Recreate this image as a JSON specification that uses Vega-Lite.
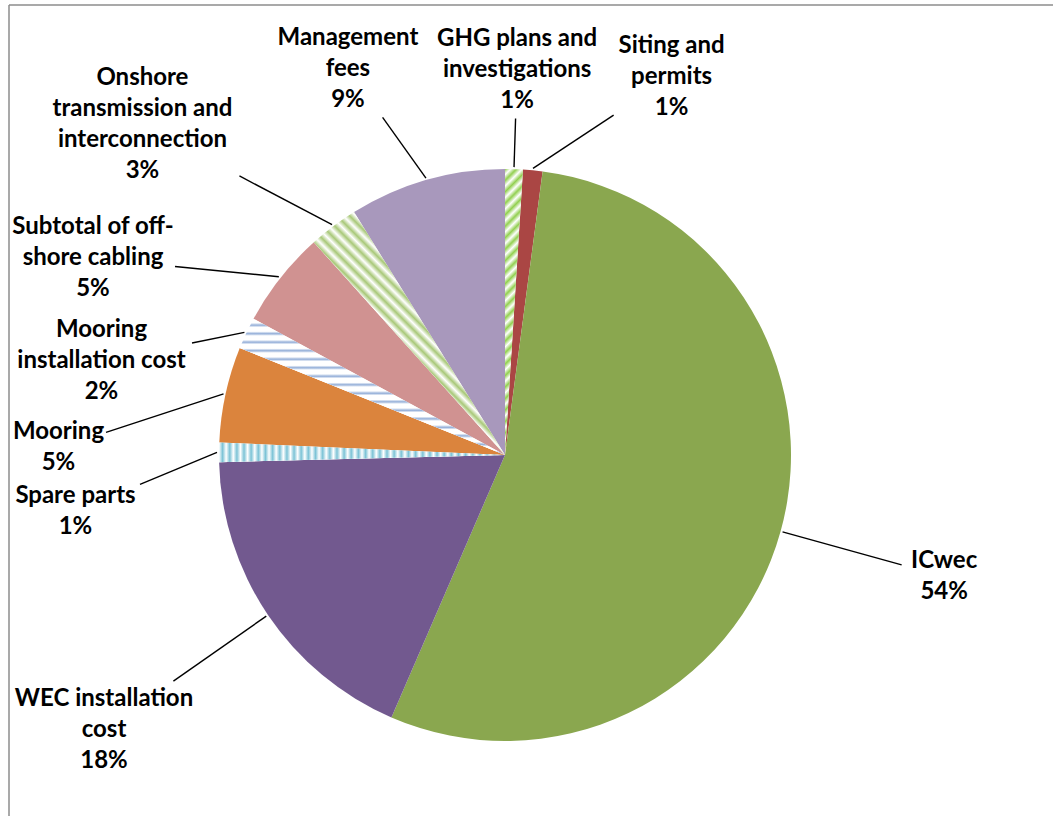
{
  "$schema": "https://vega.github.io/schema/vega-lite/v6.json",
  "width": 1044,
  "height": 811,
  "autosize": {"type": "none"},
  "padding": {"left": 9, "top": 5, "right": 0, "bottom": 0},
  "background": "white",
  "config": {"view": {"stroke": null}},
  "data": {"values": [
    {"item": "GHG plans and investigations", "label": "GHG plans  and\ninvestigations", "value": 1.0},
    {"item": "Siting and permits", "label": "Siting and\npermits", "value": 1.1},
    {"item": "ICwec", "label": "ICwec", "value": 54.4},
    {"item": "WEC installation cost", "label": "WEC installation\ncost", "value": 18.1},
    {"item": "Spare parts", "label": "Spare parts", "value": 1.1},
    {"item": "Mooring", "label": "Mooring", "value": 5.4},
    {"item": "Mooring installation cost", "label": "Mooring\ninstallation cost", "value": 1.8},
    {"item": "Subtotal of off-shore cabling", "label": "Subtotal of off-\nshore cabling", "value": 5.45},
    {"item": "Onshore transmission and interconnection", "label": "Onshore\ntransmission and\ninterconnection", "value": 2.8},
    {"item": "Management fees", "label": "Management\nfees", "value": 8.85}
  ]},
  "transform": [
    {"window": [{"op": "row_number", "as": "idx"}]},
    {"joinaggregate": [{"op": "sum", "field": "value", "as": "total"}]},
    {"window": [{"op": "sum", "field": "value", "as": "cum"}], "sort": [{"field": "idx"}], "frame": [null, 0]},
    {"calculate": "(datum.cum - datum.value) / datum.total", "as": "a0"},
    {"calculate": "datum.cum / datum.total", "as": "a1"},
    {"calculate": "(datum.a0 + datum.a1) / 2", "as": "am"},
    {"calculate": "datum.label + '\\n' + format(datum.value / datum.total, '.0%')", "as": "txt"},
    {"calculate": "split(datum.label, '\\n')", "as": "lines"},
    {"calculate": "datum.lines[0]", "as": "s0"},
    {"calculate": "length(datum.lines) > 1 ? datum.lines[1] : ''", "as": "s1"},
    {"calculate": "length(datum.lines) > 2 ? datum.lines[2] : ''", "as": "s2"},
    {"calculate": "7 * length(replace(datum.s0, regexp('[^ijltfr .,-]', 'g'), '')) + 21 * length(replace(datum.s0, regexp('[^mwMW]', 'g'), '')) + 15 * length(replace(datum.s0, regexp('[^A-LN-VX-Z]', 'g'), '')) + 13 * length(replace(datum.s0, regexp('[ijltfr .,mwA-Z-]', 'g'), ''))", "as": "w0"},
    {"calculate": "7 * length(replace(datum.s1, regexp('[^ijltfr .,-]', 'g'), '')) + 21 * length(replace(datum.s1, regexp('[^mwMW]', 'g'), '')) + 15 * length(replace(datum.s1, regexp('[^A-LN-VX-Z]', 'g'), '')) + 13 * length(replace(datum.s1, regexp('[ijltfr .,mwA-Z-]', 'g'), ''))", "as": "w1"},
    {"calculate": "7 * length(replace(datum.s2, regexp('[^ijltfr .,-]', 'g'), '')) + 21 * length(replace(datum.s2, regexp('[^mwMW]', 'g'), '')) + 15 * length(replace(datum.s2, regexp('[^A-LN-VX-Z]', 'g'), '')) + 13 * length(replace(datum.s2, regexp('[ijltfr .,mwA-Z-]', 'g'), ''))", "as": "w2"},
    {"calculate": "max(datum.w0, datum.w1, datum.w2, 45) / 2", "as": "hw"},
    {"calculate": "(length(datum.lines) + 1) * 15.5", "as": "hh"},
    {"calculate": "336 + datum.hw * abs(sin(2 * PI * datum.am)) + datum.hh * abs(cos(2 * PI * datum.am)) + 80 * pow(sin(2 * PI * datum.am), 2)", "as": "dl0"},
    {"window": [
      {"op": "lag", "field": "hw", "as": "phw"},
      {"op": "lag", "field": "hh", "as": "phh"},
      {"op": "lag", "field": "am", "as": "pam"},
      {"op": "lag", "field": "dl0", "as": "pdl"},
      {"op": "lead", "field": "hw", "as": "nhw"},
      {"op": "lead", "field": "hh", "as": "nhh"},
      {"op": "lead", "field": "am", "as": "nam"},
      {"op": "lead", "field": "dl0", "as": "ndl"},
      {"op": "first_value", "field": "hw", "as": "fhw"},
      {"op": "first_value", "field": "hh", "as": "fhh"},
      {"op": "first_value", "field": "am", "as": "fam"},
      {"op": "first_value", "field": "dl0", "as": "fdl"}
    ], "sort": [{"field": "idx"}], "frame": [null, null]},
    {"calculate": "datum.idx == 1 ? 0 : min((datum.hw + datum.phw + 12) / max(abs(cos(PI * (datum.am + datum.pam))), 0.001), (datum.hh + datum.phh) / max(abs(sin(PI * (datum.am + datum.pam))), 0.001)) / ((datum.dl0 + datum.pdl) / 2) / (2 * PI)", "as": "gp"},
    {"calculate": "isValid(datum.nhw) ? datum.nhw : datum.fhw", "as": "nhw2"},
    {"calculate": "isValid(datum.nhh) ? datum.nhh : datum.fhh", "as": "nhh2"},
    {"calculate": "isValid(datum.nam) ? datum.nam : datum.fam + 1", "as": "nam2"},
    {"calculate": "isValid(datum.ndl) ? datum.ndl : datum.fdl", "as": "ndl2"},
    {"calculate": "min((datum.hw + datum.nhw2 + 12) / max(abs(cos(PI * (datum.am + datum.nam2))), 0.001), (datum.hh + datum.nhh2) / max(abs(sin(PI * (datum.am + datum.nam2))), 0.001)) / ((datum.dl0 + datum.ndl2) / 2) / (2 * PI)", "as": "gn"},
    {"window": [{"op": "sum", "field": "gp", "as": "G"}], "sort": [{"field": "idx"}], "frame": [null, 0]},
    {"calculate": "datum.am - datum.G", "as": "fv"},
    {"window": [{"op": "max", "field": "fv", "as": "fmax"}], "sort": [{"field": "idx"}], "frame": [null, 0]},
    {"window": [{"op": "sum", "field": "gn", "as": "H"}], "sort": [{"field": "idx"}], "frame": [0, null]},
    {"calculate": "datum.am + datum.H", "as": "bv"},
    {"window": [{"op": "min", "field": "bv", "as": "bmin"}], "sort": [{"field": "idx"}], "frame": [0, null]},
    {"calculate": "datum.am < 0.5 ? datum.fmax + datum.G : min(datum.bmin, datum.fam + 1) - datum.H", "as": "lab"},
    {"calculate": "2 * PI * datum.lab", "as": "tl"},
    {"calculate": "datum.hw * abs(sin(datum.tl)) + datum.hh * abs(cos(datum.tl))", "as": "hx"},
    {"calculate": "336 + datum.hx + 80 * pow(sin(datum.tl), 2)", "as": "dl"},
    {"calculate": "clamp(datum.dl * sin(datum.tl), -496 + datum.hw + 6, 548 - datum.hw - 6)", "as": "lx"},
    {"calculate": "clamp(datum.dl * cos(datum.tl), -361 + datum.hh + 6, 450 - datum.hh - 6)", "as": "ly"},
    {"calculate": "datum.ly + (length(datum.lines)) * 15.5", "as": "ty"},
    {"calculate": "288 * sin(2 * PI * datum.am)", "as": "sx"},
    {"calculate": "288 * cos(2 * PI * datum.am)", "as": "sy"},
    {"calculate": "min((datum.hw + 4) / max(abs(datum.sx - datum.lx), 0.001), (datum.hh + 2) / max(abs(datum.sy - datum.ly), 0.001))", "as": "ls"},
    {"calculate": "datum.lx + (datum.sx - datum.lx) * datum.ls", "as": "ex"},
    {"calculate": "datum.ly + (datum.sy - datum.ly) * datum.ls", "as": "ey"}
  ],
  "layer": [
    {
      "mark": {"type": "arc", "outerRadius": 286},
      "encoding": {
        "x": {"datum": 0, "type": "quantitative", "scale": {"domain": [-496, 548], "nice": false, "zero": false}, "axis": null},
        "y": {"datum": 0, "type": "quantitative", "scale": {"domain": [-361, 450], "nice": false, "zero": false}, "axis": null},
        "theta": {"field": "a0", "type": "quantitative", "scale": {"domain": [0, 1]}},
        "theta2": {"field": "a1"},
        "color": {"field": "item", "type": "nominal", "legend": null, "scale": {
          "domain": ["GHG plans and investigations", "Siting and permits", "ICwec", "WEC installation cost", "Spare parts", "Mooring", "Mooring installation cost", "Subtotal of off-shore cabling", "Onshore transmission and interconnection", "Management fees"],
          "range": ["#ffffff", "#aa4644", "#8aa74f", "#72598f", "#ffffff", "#db843d", "#ffffff", "#d09291", "#ffffff", "#a898bc"]}}
      }
    },
    {
      "transform": [{"filter": "datum.item == 'GHG plans and investigations'"}],
      "mark": {"type": "arc", "outerRadius": 286, "fill": {"gradient": "linear", "x1": 0, "y1": 0, "x2": 0.0628, "y2": 1, "stops": [
        {"offset": 0, "color": "#92d050"}, {"offset": 0.02, "color": "#ffffff"}, {"offset": 0.04, "color": "#92d050"}, {"offset": 0.06, "color": "#ffffff"},
        {"offset": 0.08, "color": "#92d050"}, {"offset": 0.1, "color": "#ffffff"}, {"offset": 0.12, "color": "#92d050"}, {"offset": 0.14, "color": "#ffffff"},
        {"offset": 0.16, "color": "#92d050"}, {"offset": 0.18, "color": "#ffffff"}, {"offset": 0.2, "color": "#92d050"}, {"offset": 0.22, "color": "#ffffff"},
        {"offset": 0.24, "color": "#92d050"}, {"offset": 0.26, "color": "#ffffff"}, {"offset": 0.28, "color": "#92d050"}, {"offset": 0.3, "color": "#ffffff"},
        {"offset": 0.32, "color": "#92d050"}, {"offset": 0.34, "color": "#ffffff"}, {"offset": 0.36, "color": "#92d050"}, {"offset": 0.38, "color": "#ffffff"},
        {"offset": 0.4, "color": "#92d050"}, {"offset": 0.42, "color": "#ffffff"}, {"offset": 0.44, "color": "#92d050"}, {"offset": 0.46, "color": "#ffffff"},
        {"offset": 0.48, "color": "#92d050"}, {"offset": 0.5, "color": "#ffffff"}, {"offset": 0.52, "color": "#92d050"}, {"offset": 0.54, "color": "#ffffff"},
        {"offset": 0.56, "color": "#92d050"}, {"offset": 0.58, "color": "#ffffff"}, {"offset": 0.6, "color": "#92d050"}, {"offset": 0.62, "color": "#ffffff"},
        {"offset": 0.64, "color": "#92d050"}, {"offset": 0.66, "color": "#ffffff"}, {"offset": 0.68, "color": "#92d050"}, {"offset": 0.7, "color": "#ffffff"},
        {"offset": 0.72, "color": "#92d050"}, {"offset": 0.74, "color": "#ffffff"}, {"offset": 0.76, "color": "#92d050"}, {"offset": 0.78, "color": "#ffffff"},
        {"offset": 0.8, "color": "#92d050"}, {"offset": 0.82, "color": "#ffffff"}, {"offset": 0.84, "color": "#92d050"}, {"offset": 0.86, "color": "#ffffff"},
        {"offset": 0.88, "color": "#92d050"}, {"offset": 0.9, "color": "#ffffff"}, {"offset": 0.92, "color": "#92d050"}, {"offset": 0.94, "color": "#ffffff"},
        {"offset": 0.96, "color": "#92d050"}, {"offset": 0.98, "color": "#ffffff"}, {"offset": 1, "color": "#92d050"}]}},
      "encoding": {
        "x": {"datum": 0, "type": "quantitative", "scale": {"domain": [-496, 548], "nice": false, "zero": false}, "axis": null},
        "y": {"datum": 0, "type": "quantitative", "scale": {"domain": [-361, 450], "nice": false, "zero": false}, "axis": null},
        "theta": {"field": "a0", "type": "quantitative", "scale": {"domain": [0, 1]}},
        "theta2": {"field": "a1"}
      }
    },
    {
      "transform": [{"filter": "datum.item == 'Onshore transmission and interconnection'"}],
      "mark": {"type": "arc", "outerRadius": 286, "fill": {"gradient": "linear", "x1": 0, "y1": 1, "x2": 1, "y2": -0.27, "stops": [
        {"offset": 0, "color": "#a8c878"}, {"offset": 0.0125, "color": "#ffffff"}, {"offset": 0.025, "color": "#a8c878"}, {"offset": 0.0375, "color": "#ffffff"},
        {"offset": 0.05, "color": "#a8c878"}, {"offset": 0.0625, "color": "#ffffff"}, {"offset": 0.075, "color": "#a8c878"}, {"offset": 0.0875, "color": "#ffffff"},
        {"offset": 0.1, "color": "#a8c878"}, {"offset": 0.1125, "color": "#ffffff"}, {"offset": 0.125, "color": "#a8c878"}, {"offset": 0.1375, "color": "#ffffff"},
        {"offset": 0.15, "color": "#a8c878"}, {"offset": 0.1625, "color": "#ffffff"}, {"offset": 0.175, "color": "#a8c878"}, {"offset": 0.1875, "color": "#ffffff"},
        {"offset": 0.2, "color": "#a8c878"}, {"offset": 0.2125, "color": "#ffffff"}, {"offset": 0.225, "color": "#a8c878"}, {"offset": 0.2375, "color": "#ffffff"},
        {"offset": 0.25, "color": "#a8c878"}, {"offset": 0.2625, "color": "#ffffff"}, {"offset": 0.275, "color": "#a8c878"}, {"offset": 0.2875, "color": "#ffffff"},
        {"offset": 0.3, "color": "#a8c878"}, {"offset": 0.3125, "color": "#ffffff"}, {"offset": 0.325, "color": "#a8c878"}, {"offset": 0.3375, "color": "#ffffff"},
        {"offset": 0.35, "color": "#a8c878"}, {"offset": 0.3625, "color": "#ffffff"}, {"offset": 0.375, "color": "#a8c878"}, {"offset": 0.3875, "color": "#ffffff"},
        {"offset": 0.4, "color": "#a8c878"}, {"offset": 0.4125, "color": "#ffffff"}, {"offset": 0.425, "color": "#a8c878"}, {"offset": 0.4375, "color": "#ffffff"},
        {"offset": 0.45, "color": "#a8c878"}, {"offset": 0.4625, "color": "#ffffff"}, {"offset": 0.475, "color": "#a8c878"}, {"offset": 0.4875, "color": "#ffffff"},
        {"offset": 0.5, "color": "#a8c878"}, {"offset": 0.5125, "color": "#ffffff"}, {"offset": 0.525, "color": "#a8c878"}, {"offset": 0.5375, "color": "#ffffff"},
        {"offset": 0.55, "color": "#a8c878"}, {"offset": 0.5625, "color": "#ffffff"}, {"offset": 0.575, "color": "#a8c878"}, {"offset": 0.5875, "color": "#ffffff"},
        {"offset": 0.6, "color": "#a8c878"}, {"offset": 0.6125, "color": "#ffffff"}, {"offset": 0.625, "color": "#a8c878"}, {"offset": 0.6375, "color": "#ffffff"},
        {"offset": 0.65, "color": "#a8c878"}, {"offset": 0.6625, "color": "#ffffff"}, {"offset": 0.675, "color": "#a8c878"}, {"offset": 0.6875, "color": "#ffffff"},
        {"offset": 0.7, "color": "#a8c878"}, {"offset": 0.7125, "color": "#ffffff"}, {"offset": 0.725, "color": "#a8c878"}, {"offset": 0.7375, "color": "#ffffff"},
        {"offset": 0.75, "color": "#a8c878"}, {"offset": 0.7625, "color": "#ffffff"}, {"offset": 0.775, "color": "#a8c878"}, {"offset": 0.7875, "color": "#ffffff"},
        {"offset": 0.8, "color": "#a8c878"}, {"offset": 0.8125, "color": "#ffffff"}, {"offset": 0.825, "color": "#a8c878"}, {"offset": 0.8375, "color": "#ffffff"},
        {"offset": 0.85, "color": "#a8c878"}, {"offset": 0.8625, "color": "#ffffff"}, {"offset": 0.875, "color": "#a8c878"}, {"offset": 0.8875, "color": "#ffffff"},
        {"offset": 0.9, "color": "#a8c878"}]}},
      "encoding": {
        "x": {"datum": 0, "type": "quantitative", "scale": {"domain": [-496, 548], "nice": false, "zero": false}, "axis": null},
        "y": {"datum": 0, "type": "quantitative", "scale": {"domain": [-361, 450], "nice": false, "zero": false}, "axis": null},
        "theta": {"field": "a0", "type": "quantitative", "scale": {"domain": [0, 1]}},
        "theta2": {"field": "a1"}
      }
    },
    {
      "transform": [{"filter": "datum.item == 'Mooring installation cost'"}],
      "mark": {"type": "arc", "outerRadius": 286, "fill": {"gradient": "linear", "x1": 0, "y1": 0, "x2": 0, "y2": 1, "stops": [
        {"offset": 0, "color": "#ffffff"}, {"offset": 0.03, "color": "#ffffff"}, {"offset": 0.047, "color": "#93aed8"},
        {"offset": 0.0625, "color": "#ffffff"}, {"offset": 0.0925, "color": "#ffffff"}, {"offset": 0.1095, "color": "#93aed8"},
        {"offset": 0.125, "color": "#ffffff"}, {"offset": 0.155, "color": "#ffffff"}, {"offset": 0.172, "color": "#93aed8"},
        {"offset": 0.1875, "color": "#ffffff"}, {"offset": 0.2175, "color": "#ffffff"}, {"offset": 0.2345, "color": "#93aed8"},
        {"offset": 0.25, "color": "#ffffff"}, {"offset": 0.28, "color": "#ffffff"}, {"offset": 0.297, "color": "#93aed8"},
        {"offset": 0.3125, "color": "#ffffff"}, {"offset": 0.3425, "color": "#ffffff"}, {"offset": 0.3595, "color": "#93aed8"},
        {"offset": 0.375, "color": "#ffffff"}, {"offset": 0.405, "color": "#ffffff"}, {"offset": 0.422, "color": "#93aed8"},
        {"offset": 0.4375, "color": "#ffffff"}, {"offset": 0.4675, "color": "#ffffff"}, {"offset": 0.4845, "color": "#93aed8"},
        {"offset": 0.5, "color": "#ffffff"}, {"offset": 0.53, "color": "#ffffff"}, {"offset": 0.547, "color": "#93aed8"},
        {"offset": 0.5625, "color": "#ffffff"}, {"offset": 0.5925, "color": "#ffffff"}, {"offset": 0.6095, "color": "#93aed8"},
        {"offset": 0.625, "color": "#ffffff"}, {"offset": 0.655, "color": "#ffffff"}, {"offset": 0.672, "color": "#93aed8"},
        {"offset": 0.6875, "color": "#ffffff"}, {"offset": 0.7175, "color": "#ffffff"}, {"offset": 0.7345, "color": "#93aed8"},
        {"offset": 0.75, "color": "#ffffff"}, {"offset": 0.78, "color": "#ffffff"}, {"offset": 0.797, "color": "#93aed8"},
        {"offset": 0.8125, "color": "#ffffff"}, {"offset": 0.8425, "color": "#ffffff"}, {"offset": 0.8595, "color": "#93aed8"},
        {"offset": 0.875, "color": "#ffffff"}, {"offset": 0.905, "color": "#ffffff"}, {"offset": 0.922, "color": "#93aed8"},
        {"offset": 0.9375, "color": "#ffffff"}, {"offset": 0.9675, "color": "#ffffff"}, {"offset": 0.9845, "color": "#93aed8"},
        {"offset": 1, "color": "#ffffff"}]}},
      "encoding": {
        "x": {"datum": 0, "type": "quantitative", "scale": {"domain": [-496, 548], "nice": false, "zero": false}, "axis": null},
        "y": {"datum": 0, "type": "quantitative", "scale": {"domain": [-361, 450], "nice": false, "zero": false}, "axis": null},
        "theta": {"field": "a0", "type": "quantitative", "scale": {"domain": [0, 1]}},
        "theta2": {"field": "a1"}
      }
    },
    {
      "transform": [{"filter": "datum.item == 'Spare parts'"}],
      "mark": {"type": "arc", "outerRadius": 286, "fill": {"gradient": "linear", "x1": 0, "y1": 0, "x2": 1, "y2": 0, "stops": [
        {"offset": 0, "color": "#ffffff"}, {"offset": 0.0125, "color": "#7cc3d6"}, {"offset": 0.025, "color": "#ffffff"}, {"offset": 0.0375, "color": "#7cc3d6"},
        {"offset": 0.05, "color": "#ffffff"}, {"offset": 0.0625, "color": "#7cc3d6"}, {"offset": 0.075, "color": "#ffffff"}, {"offset": 0.0875, "color": "#7cc3d6"},
        {"offset": 0.1, "color": "#ffffff"}, {"offset": 0.1125, "color": "#7cc3d6"}, {"offset": 0.125, "color": "#ffffff"}, {"offset": 0.1375, "color": "#7cc3d6"},
        {"offset": 0.15, "color": "#ffffff"}, {"offset": 0.1625, "color": "#7cc3d6"}, {"offset": 0.175, "color": "#ffffff"}, {"offset": 0.1875, "color": "#7cc3d6"},
        {"offset": 0.2, "color": "#ffffff"}, {"offset": 0.2125, "color": "#7cc3d6"}, {"offset": 0.225, "color": "#ffffff"}, {"offset": 0.2375, "color": "#7cc3d6"},
        {"offset": 0.25, "color": "#ffffff"}, {"offset": 0.2625, "color": "#7cc3d6"}, {"offset": 0.275, "color": "#ffffff"}, {"offset": 0.2875, "color": "#7cc3d6"},
        {"offset": 0.3, "color": "#ffffff"}, {"offset": 0.3125, "color": "#7cc3d6"}, {"offset": 0.325, "color": "#ffffff"}, {"offset": 0.3375, "color": "#7cc3d6"},
        {"offset": 0.35, "color": "#ffffff"}, {"offset": 0.3625, "color": "#7cc3d6"}, {"offset": 0.375, "color": "#ffffff"}, {"offset": 0.3875, "color": "#7cc3d6"},
        {"offset": 0.4, "color": "#ffffff"}, {"offset": 0.4125, "color": "#7cc3d6"}, {"offset": 0.425, "color": "#ffffff"}, {"offset": 0.4375, "color": "#7cc3d6"},
        {"offset": 0.45, "color": "#ffffff"}, {"offset": 0.4625, "color": "#7cc3d6"}, {"offset": 0.475, "color": "#ffffff"}, {"offset": 0.4875, "color": "#7cc3d6"},
        {"offset": 0.5, "color": "#ffffff"}, {"offset": 0.5125, "color": "#7cc3d6"}, {"offset": 0.525, "color": "#ffffff"}, {"offset": 0.5375, "color": "#7cc3d6"},
        {"offset": 0.55, "color": "#ffffff"}, {"offset": 0.5625, "color": "#7cc3d6"}, {"offset": 0.575, "color": "#ffffff"}, {"offset": 0.5875, "color": "#7cc3d6"},
        {"offset": 0.6, "color": "#ffffff"}, {"offset": 0.6125, "color": "#7cc3d6"}, {"offset": 0.625, "color": "#ffffff"}, {"offset": 0.6375, "color": "#7cc3d6"},
        {"offset": 0.65, "color": "#ffffff"}, {"offset": 0.6625, "color": "#7cc3d6"}, {"offset": 0.675, "color": "#ffffff"}, {"offset": 0.6875, "color": "#7cc3d6"},
        {"offset": 0.7, "color": "#ffffff"}, {"offset": 0.7125, "color": "#7cc3d6"}, {"offset": 0.725, "color": "#ffffff"}, {"offset": 0.7375, "color": "#7cc3d6"},
        {"offset": 0.75, "color": "#ffffff"}, {"offset": 0.7625, "color": "#7cc3d6"}, {"offset": 0.775, "color": "#ffffff"}, {"offset": 0.7875, "color": "#7cc3d6"},
        {"offset": 0.8, "color": "#ffffff"}, {"offset": 0.8125, "color": "#7cc3d6"}, {"offset": 0.825, "color": "#ffffff"}, {"offset": 0.8375, "color": "#7cc3d6"},
        {"offset": 0.85, "color": "#ffffff"}, {"offset": 0.8625, "color": "#7cc3d6"}, {"offset": 0.875, "color": "#ffffff"}, {"offset": 0.8875, "color": "#7cc3d6"},
        {"offset": 0.9, "color": "#ffffff"}, {"offset": 0.9125, "color": "#7cc3d6"}, {"offset": 0.925, "color": "#ffffff"}, {"offset": 0.9375, "color": "#7cc3d6"},
        {"offset": 0.95, "color": "#ffffff"}, {"offset": 0.9625, "color": "#7cc3d6"}, {"offset": 0.975, "color": "#ffffff"}, {"offset": 0.9875, "color": "#7cc3d6"},
        {"offset": 1, "color": "#ffffff"}]}},
      "encoding": {
        "x": {"datum": 0, "type": "quantitative", "scale": {"domain": [-496, 548], "nice": false, "zero": false}, "axis": null},
        "y": {"datum": 0, "type": "quantitative", "scale": {"domain": [-361, 450], "nice": false, "zero": false}, "axis": null},
        "theta": {"field": "a0", "type": "quantitative", "scale": {"domain": [0, 1]}},
        "theta2": {"field": "a1"}
      }
    },
    {
      "mark": {"type": "rule", "color": "#000000", "strokeWidth": 1.4},
      "encoding": {
        "x": {"field": "sx", "type": "quantitative", "scale": {"domain": [-496, 548], "nice": false, "zero": false}, "axis": null},
        "y": {"field": "sy", "type": "quantitative", "scale": {"domain": [-361, 450], "nice": false, "zero": false}, "axis": null},
        "x2": {"field": "ex"},
        "y2": {"field": "ey"}
      }
    },
    {
      "mark": {"type": "text", "font": "Lato", "fontWeight": "bold", "fontSize": 24, "lineHeight": 31, "lineBreak": "\n", "align": "center", "baseline": "middle", "color": "#000000"},
      "encoding": {
        "x": {"field": "lx", "type": "quantitative", "scale": {"domain": [-496, 548], "nice": false, "zero": false}, "axis": null},
        "y": {"field": "ty", "type": "quantitative", "scale": {"domain": [-361, 450], "nice": false, "zero": false}, "axis": null},
        "text": {"field": "txt", "type": "nominal"}
      }
    },
    {
      "data": {"values": [{}]},
      "mark": {"type": "rule", "color": "#8c8c8c", "strokeWidth": 1.5},
      "encoding": {"x": {"value": 0}, "x2": {"value": "width"}, "y": {"value": 0}}
    },
    {
      "data": {"values": [{}]},
      "mark": {"type": "rule", "color": "#8c8c8c", "strokeWidth": 1.5},
      "encoding": {"x": {"value": 0}, "y": {"value": 0}, "y2": {"value": "height"}}
    }
  ]
}
